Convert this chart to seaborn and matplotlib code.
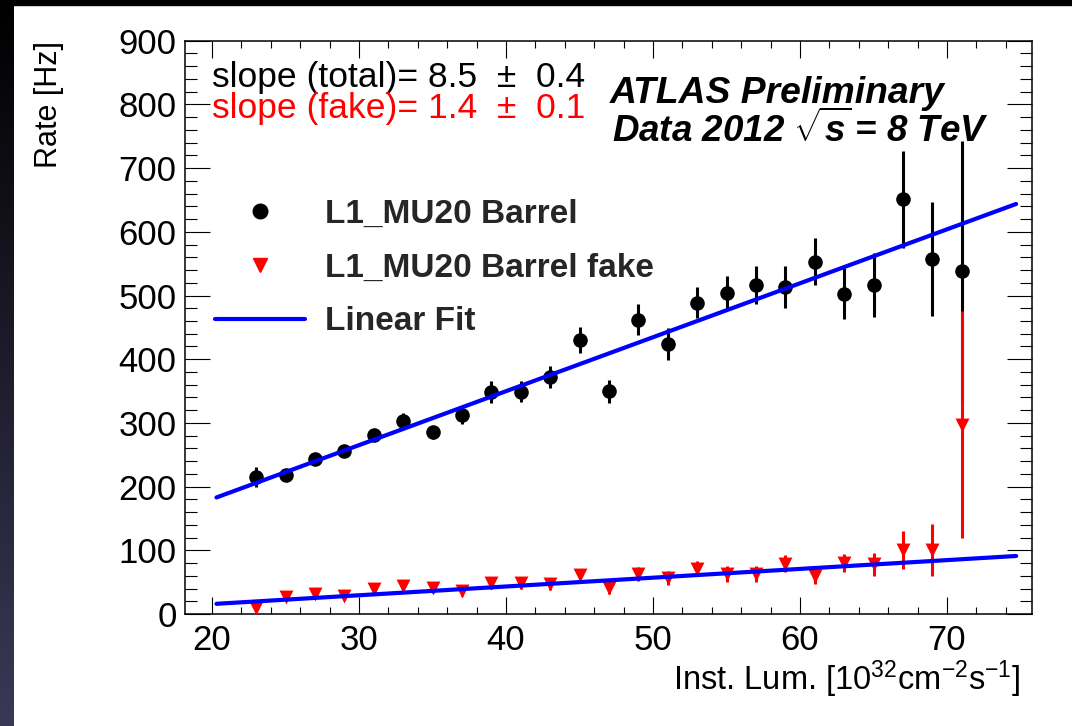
import numpy as np
import pandas as pd
import matplotlib
matplotlib.use("Agg")
import matplotlib.pyplot as plt
from matplotlib.patches import Rectangle
from matplotlib.lines import Line2D
from matplotlib.ticker import MultipleLocator
import seaborn as sns

# ---------------- data ----------------
lumi = [23, 25, 27, 29, 31, 33, 35, 37, 39, 41, 43, 45, 47,
        49, 51, 53, 55, 57, 59, 61, 63, 65, 67, 69, 71]
rate_total = [215, 218, 243, 256, 281, 303, 285, 312, 349, 349, 372, 430, 350,
              462, 424, 489, 504, 516, 514, 553, 503, 517, 651, 557, 538]
err_total = [16, 8, 8, 8, 10, 13, 10, 13, 17, 16, 17, 20, 18,
             24, 25, 25, 27, 30, 33, 37, 40, 50, 76, 89, 205]
rate_fake = [10, 26, 32, 29, 39, 44, 41, 36, 49, 49, 47, 61, 41,
             63, 57, 71, 63, 63, 79, 60, 80, 78, 100, 100, 297]
err_fake = [5, 6, 6, 7, 7, 7, 8, 8, 9, 9, 9, 10, 10,
            11, 11, 12, 12, 12, 13, 13, 14, 18, 30, 41, 178]

fit_range = [20.3, 74.7]
fit_total = {"slope": 8.47, "intercept": 11.0}
fit_fake = {"slope": 1.38, "intercept": -12.0}

legend_labels = ["L1_MU20 Barrel", "L1_MU20 Barrel fake", "Linear Fit"]
slope_total_txt = "slope (total)= 8.5  \u00b1  0.4"
slope_fake_txt = "slope (fake)= 1.4  \u00b1  0.1"

df = pd.DataFrame({"lumi": lumi, "total": rate_total, "etot": err_total,
                   "fake": rate_fake, "efake": err_fake})
fx = np.array(fit_range)
fit_df = pd.DataFrame({
    "x": np.concatenate([fx, fx]),
    "y": np.concatenate([fit_total["intercept"] + fit_total["slope"] * fx,
                         fit_fake["intercept"] + fit_fake["slope"] * fx]),
    "fit": ["total", "total", "fake", "fake"],
})

# ---------------- style ----------------
sns.set_theme(style="ticks")
plt.rcParams["font.family"] = ["Liberation Sans", "DejaVu Sans"]
plt.rcParams["mathtext.fontset"] = "custom"
plt.rcParams["mathtext.rm"] = "Liberation Sans"
plt.rcParams["mathtext.it"] = "Liberation Sans:italic"
plt.rcParams["mathtext.bf"] = "Liberation Sans:bold:italic"

W, H = 1072, 726
fig = plt.figure(figsize=(W / 100, H / 100), dpi=100)
fig.patch.set_facecolor("white")

def px(x):
    return x / W

def py(y):
    return 1 - y / H

# dark strip on the left and top edge
gax = fig.add_axes([0, 0, 14 / W, 1])
grad = np.linspace(0, 1, 256)[:, None]
cols = np.array([0.0, 0.0, 0.0])[None, :] * (1 - grad) + np.array([0.23, 0.22, 0.34])[None, :] * grad
gax.imshow(cols[:, None, :], aspect="auto", extent=[0, 1, 0, 1], origin="upper")
gax.set_axis_off()
fig.add_artist(Rectangle((0, 1 - 5 / H), 1, 5 / H, transform=fig.transFigure,
                         color="black", zorder=10))

ax = fig.add_axes([185 / W, 112 / H, 847 / W, 573.3 / H])
ax.set_facecolor("white")

CIRC = 10.5
TRI = 10.0

# black points with error bars
ax.errorbar(df["lumi"], df["total"], yerr=df["etot"], fmt="none",
            ecolor="black", elinewidth=2.2, capsize=0, zorder=3)
sns.scatterplot(data=df, x="lumi", y="total", ax=ax, color="black", marker="o",
                s=CIRC ** 2, edgecolor="black", linewidth=0, zorder=3, legend=False)
sns.lineplot(data=fit_df[fit_df["fit"] == "total"], x="x", y="y", ax=ax,
             color="#0000ff", linewidth=3.0, zorder=4, legend=False)

# red points
ax.errorbar(df["lumi"], df["fake"], yerr=df["efake"], fmt="none",
            ecolor="#ff0000", elinewidth=2.2, capsize=0, zorder=5)
sns.scatterplot(data=df, x="lumi", y="fake", ax=ax, color="#ff0000", marker="v",
                s=TRI ** 2, edgecolor="#ff0000", linewidth=0, zorder=5, legend=False)
sns.lineplot(data=fit_df[fit_df["fit"] == "fake"], x="x", y="y", ax=ax,
             color="#0000ff", linewidth=3.0, zorder=6, legend=False)

ax.set_xlim(18.16, 75.78)
ax.set_ylim(0, 900)
ax.xaxis.set_major_locator(MultipleLocator(10))
ax.xaxis.set_minor_locator(MultipleLocator(2))
ax.yaxis.set_major_locator(MultipleLocator(100))
ax.yaxis.set_minor_locator(MultipleLocator(20))
ax.tick_params(axis="both", which="both", direction="in", top=True, right=True,
               color="black", width=0.8, labelsize=25, labelcolor="black")
ax.tick_params(axis="x", which="major", length=12, pad=7)
ax.tick_params(axis="x", which="minor", length=5)
ax.tick_params(axis="y", which="major", length=18, pad=6)
ax.tick_params(axis="y", which="minor", length=8.6)
for s in ax.spines.values():
    s.set_visible(True)
    s.set_color("black")
    s.set_linewidth(1.1)
ax.grid(False)

ax.set_xlabel(r"Inst. Lum. [10$^{32}$cm$^{-2}$s$^{-1}$]", fontsize=23.5,
              loc="right", color="black")
ax.xaxis.set_label_coords((1020 - 185) / 847, (614 - 658) / 573.3)
ax.set_ylabel("Rate [Hz]", fontsize=22, loc="top", color="black")
ax.yaxis.set_label_coords((64 - 185) / 847, 1.0)

# annotations
fig.text(px(212), py(87), slope_total_txt, fontsize=25.5, color="black", va="baseline")
fig.text(px(212), py(118), slope_fake_txt, fontsize=25.5, color="#ff0000", va="baseline")
fig.text(px(610), py(103), "ATLAS Preliminary", fontsize=26.8, fontweight="bold",
         style="italic", color="black", va="baseline")
fig.text(px(612), py(142), r"Data 2012 $\sqrt{\mathbf{s}}\!$ = 8 TeV", fontsize=26.5,
         fontweight="bold", style="italic", color="black", va="baseline")

# legend
handles = [
    Line2D([], [], linestyle="none", marker="o", markersize=CIRC, color="black"),
    Line2D([], [], linestyle="none", marker="v", markersize=TRI, color="#ff0000"),
    Line2D([], [], color="#0000ff", linewidth=3.0),
]
leg = ax.legend(handles, legend_labels, loc="upper left",
                bbox_to_anchor=(px(215), py(199)), bbox_transform=fig.transFigure,
                frameon=False, borderpad=0, borderaxespad=0,
                handlelength=2.7, handletextpad=0.6, labelspacing=0.68,
                prop={"family": "Liberation Sans", "weight": "bold", "size": 24})

fig.savefig("out.png", dpi=100, facecolor="white")
